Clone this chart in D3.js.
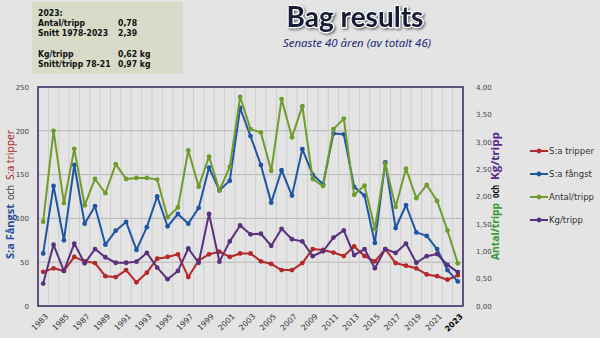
<!DOCTYPE html>
<html><head><meta charset="utf-8">
<script src="https://cdn.jsdelivr.net/npm/d3@7"></script>
<style>
html,body{margin:0;padding:0;background:#e4e4e4;}
svg{display:block;}
</style></head>
<body>
<svg id="c" width="600" height="338"></svg>
<script>
const years = d3.range(1983, 2024);
const tripper = [39,43,40,56,51,49,34,33,41,27,38,54,56,59,33,52,59,62,56,60,60,51,48,41,41,49,65,64,61,57,68,57,51,65,49,46,43,36,34,30,35];
const fangst = [60,137,75,161,94,114,70,86,96,64,90,125,91,105,94,112,158,132,143,226,194,161,118,155,126,179,150,139,197,196,136,126,72,164,89,115,84,80,65,41,28];
const antalTripp = [1.54,3.20,1.88,2.87,1.84,2.32,2.06,2.59,2.32,2.34,2.34,2.31,1.62,1.80,2.84,2.18,2.73,2.11,2.54,3.82,3.23,3.17,2.47,3.78,3.08,3.65,2.32,2.19,3.23,3.42,2.03,2.20,1.41,2.60,1.81,2.51,1.97,2.21,1.92,1.38,0.78];
const kgTripp = [0.41,1.12,0.64,1.14,0.78,1.04,0.89,0.79,0.79,0.81,0.97,0.70,0.49,0.64,1.05,0.79,1.68,0.81,1.18,1.47,1.31,1.32,1.10,1.41,1.22,1.18,0.91,1.00,1.25,1.38,0.93,1.04,0.69,1.04,0.97,1.14,0.79,0.91,0.95,0.75,0.62];
const leftTicks = [0,50,100,150,200,250];
const rightTicks = [0,0.5,1,1.5,2,2.5,3,3.5,4];
const xLabelYears = [1983,1985,1987,1989,1991,1993,1995,1997,1999,2001,2003,2005,2007,2009,2011,2013,2015,2017,2019,2021,2023];
const seriesNames = ["S:a tripper","S:a fångst","Antal/tripp","Kg/tripp"];
const infoLines = [["2023:",""],["Antal/tripp","0,78"],["Snitt 1978-2023","2,39"],["",""],["Kg/tripp","0,62 kg"],["Snitt/tripp 78-21","0,97 kg"]];

const svg = d3.select("#c");
const L=38, R=463, T=87, B=306;
const x = d3.scalePoint().domain(years).range([L,R]).padding(0.5);
const yL = d3.scaleLinear().domain([0,250]).range([B,T]);
const yR = d3.scaleLinear().domain([0,4]).range([B,T]);

const defs = svg.append("defs");
const f = defs.append("filter").attr("id","sh").attr("x","-10%").attr("y","-30%").attr("width","130%").attr("height","170%");
f.append("feDropShadow").attr("dx",1.5).attr("dy",1.5).attr("stdDeviation",1).attr("flood-color","#555").attr("flood-opacity",0.8);

// info box
svg.append("rect").attr("x",32).attr("y",2).attr("width",151).attr("height",72).attr("fill","#d7dbc7");
const info = svg.append("g").attr("font-family","'DejaVu Sans Condensed','DejaVu Sans',sans-serif").attr("font-weight","bold").attr("font-size","8.6px").attr("fill","#111");
infoLines.forEach((l,i)=>{
  if(l[0]) info.append("text").attr("x",38).attr("y",16+i*10.2).text(l[0]);
  if(l[1]) info.append("text").attr("x",118).attr("y",16+i*10.2).text(l[1]);
});

// title
svg.append("text").attr("x",355).attr("y",27).attr("text-anchor","middle")
  .attr("font-family","Lato,'Open Sans',sans-serif").attr("font-weight","bold").attr("font-size","28px")
  .attr("fill","#141a38").attr("stroke","#ffffff").attr("stroke-width",2.4).style("paint-order","stroke")
  .attr("filter","url(#sh)").text("Bag results");
svg.append("text").attr("x",357).attr("y",47).attr("text-anchor","middle").attr("font-family","'Noto Sans',sans-serif").attr("font-style","italic").attr("font-size","10px").attr("fill","#1f2a78")
  .attr("textLength",148).attr("lengthAdjust","spacingAndGlyphs").text("Senaste 40 åren (av totalt 46)");

// gridlines
const grid = svg.append("g");
leftTicks.slice(1,-1).forEach(v=>{
  grid.append("line").attr("x1",L).attr("x2",R).attr("y1",yL(v)).attr("y2",yL(v)).attr("stroke","#b5b5b5").attr("stroke-width",1);
});
years.slice(0,-1).forEach(yr=>{
  const gx = x(yr)+x.step()/2;
  grid.append("line").attr("x1",gx).attr("x2",gx).attr("y1",T).attr("y2",B).attr("stroke","#cdcdcd").attr("stroke-width",1);
});

// axes
const axL = svg.append("g").attr("transform",`translate(${L-6},0)`)
  .call(d3.axisLeft(yL).tickValues(leftTicks).tickSize(0).tickFormat(d3.format("d")));
const axR = svg.append("g").attr("transform",`translate(${R+10},0)`)
  .call(d3.axisRight(yR).tickValues(rightTicks).tickSize(0).tickFormat(d=>d3.format(".2f")(d).replace(".",",")));
[axL,axR].forEach(a=>{a.select(".domain").remove(); a.selectAll("text").attr("font-family","'DejaVu Sans',sans-serif").attr("font-size","7px").attr("fill","#444");});

const axX = svg.append("g").attr("transform",`translate(0,${B})`)
  .call(d3.axisBottom(x).tickValues(xLabelYears).tickSize(0));
axX.select(".domain").remove();
axX.selectAll("text").attr("font-family","'DejaVu Sans',sans-serif").attr("font-size","7.8px")
  .attr("text-anchor","end").attr("dy",null).attr("y",0)
  .attr("transform","translate(5,11) rotate(-45)")
  .attr("font-weight",d=>d===2023?"bold":"normal").attr("fill",d=>d===2023?"#000":"#333");

// series
const series = [
  {name:seriesNames[0], vals:tripper, y:yL, color:"#b5282a"},
  {name:seriesNames[1], vals:fangst, y:yL, color:"#1f55a5"},
  {name:seriesNames[2], vals:antalTripp, y:yR, color:"#6f9c2c"},
  {name:seriesNames[3], vals:kgTripp, y:yR, color:"#57307f"}
];
series.forEach(s=>{
  const line = d3.line().x((d,i)=>x(years[i])).y(d=>s.y(d));
  svg.append("path").datum(s.vals).attr("d",line).attr("fill","none").attr("stroke",s.color).attr("stroke-width",2).attr("stroke-linejoin","round");
  svg.append("g").selectAll("circle").data(s.vals).join("circle")
    .attr("cx",(d,i)=>x(years[i])).attr("cy",d=>s.y(d)).attr("r",2.4).attr("fill",s.color);
});

// frame
svg.append("rect").attr("x",L).attr("y",T).attr("width",R-L).attr("height",B-T).attr("fill","none").attr("stroke","#34205e").attr("stroke-width",1.5);

// axis titles: separate pieces, each fitted to its span (bottom y, top y)
function titlePiece(bx, y0, y1, txt, color, weight){
  svg.append("text").attr("transform",`translate(${bx},${y0}) rotate(-90)`).attr("x",0).attr("y",0)
    .attr("text-anchor","start").attr("font-family","'Open Sans','DejaVu Sans',sans-serif")
    .attr("font-size","10.5px").attr("font-weight",weight).attr("fill",color)
    .attr("textLength",y0-y1).attr("lengthAdjust","spacingAndGlyphs").text(txt);
}
titlePiece(13.5, 259, 204, "S:a Fångst", "#1f4f9e", "bold");
titlePiece(13.5, 200, 185, "och", "#333", "normal");
titlePiece(13.5, 180, 130, "S:a tripper", "#a51d1d", "normal");
titlePiece(499, 260, 203, "Antal/tripp", "#2e9a2e", "bold");
titlePiece(499, 198, 185, "och", "#111", "bold");
titlePiece(499, 180, 132, "Kg/tripp", "#55258c", "bold");

// legend
const lg = svg.append("g");
series.forEach((s,i)=>{
  const ly = 151 + i*23;
  lg.append("line").attr("x1",530).attr("x2",548).attr("y1",ly).attr("y2",ly).attr("stroke",s.color).attr("stroke-width",2);
  lg.append("circle").attr("cx",539).attr("cy",ly).attr("r",2.4).attr("fill",s.color);
  lg.append("text").attr("x",549).attr("y",ly+3).attr("font-family","'DejaVu Sans',sans-serif").attr("font-size","8.5px").attr("fill","#333").text(s.name);
});
</script>
</body></html>
